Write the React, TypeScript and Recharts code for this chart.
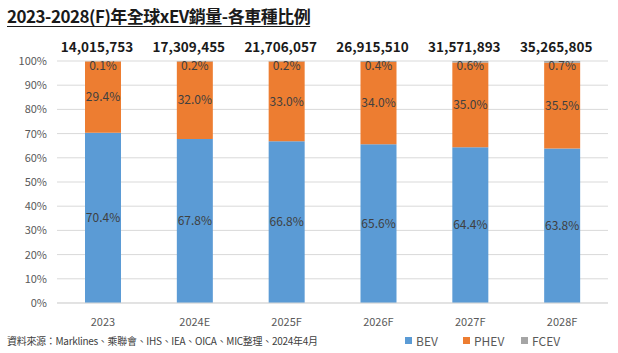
import { BarChart, Bar, XAxis, YAxis, CartesianGrid, LabelList } from "recharts";

const years = ["2023", "2024E", "2025F", "2026F", "2027F", "2028F"];
const bev = [70.4, 67.8, 66.8, 65.6, 64.4, 63.8];
const phev = [29.4, 32.0, 33.0, 34.0, 35.0, 35.5];
const fcev = [0.1, 0.2, 0.2, 0.4, 0.6, 0.7];
const totals = [14015753, 17309455, 21706057, 26915510, 31571893, 35265805];
const yTicks = [0, 10, 20, 30, 40, 50, 60, 70, 80, 90, 100];

const series = [
  { key: "BEV", color: "#5B9BD5" },
  { key: "PHEV", color: "#ED7D31" },
  { key: "FCEV", color: "#A5A5A5" },
];

const data = years.map((year, i) => ({
  year,
  BEV: bev[i],
  PHEV: phev[i],
  FCEV: fcev[i],
  total: totals[i],
}));

const FONT = '"Liberation Sans Narrow", "Noto Sans CJK TC", sans-serif';
const CJK = '"Noto Sans CJK TC", "Liberation Sans Narrow", sans-serif';

const pct = (v: any) => `${Number(v).toFixed(1)}%`;

// small FCEV label sits just under the bar top
const FcevLabel = (props: any) => {
  const { x, y, width, value } = props;
  return (
    <text x={x + width / 2} y={y + 3} textAnchor="middle" dominantBaseline="central" fontSize={12} fill="#404040" fontFamily={FONT}>
      {pct(value)}
    </text>
  );
};

const TotalLabel = (props: any) => {
  const { x, y, width, value } = props;
  return (
    <text x={x + width / 2 - 6} y={y - 15} textAnchor="middle" dominantBaseline="central" fontSize={13.5} fontWeight="bold" fill="#1a1a1a" fontFamily={FONT}>
      {Number(value).toLocaleString("en-US")}
    </text>
  );
};

export default function App() {
  return (
    <div style={{ position: "absolute", left: 0, top: 0, width: 618, height: 353, background: "#fff", overflow: "hidden" }}>
      <div
        style={{
          position: "absolute",
          left: 7,
          top: 3,
          fontFamily: CJK,
          fontSize: 17,
          fontWeight: "bold",
          color: "#1a1a1a",
          textDecoration: "underline",
          textUnderlineOffset: 3,
          letterSpacing: -0.5,
          whiteSpace: "nowrap",
        }}
      >
        2023-2028(F)年全球xEV銷量-各車種比例
      </div>
      <BarChart width={618} height={353} data={data} margin={{ top: 61, right: 10, left: 8, bottom: 20 }}>
        <CartesianGrid vertical={false} stroke="#D9D9D9" />
        <XAxis
          dataKey="year"
          height={30}
          tickLine={false}
          axisLine={{ stroke: "#D9D9D9" }}
          tickMargin={9}
          tick={{ fontSize: 11, fill: "#595959", fontFamily: FONT }}
        />
        <YAxis
          width={49}
          domain={[0, 100]}
          ticks={yTicks}
          tickFormatter={(v: number) => `${v}%`}
          tickLine={false}
          axisLine={false}
          tickMargin={4}
          tick={{ fontSize: 11, fill: "#595959", fontFamily: FONT }}
        />
        <Bar dataKey="BEV" stackId="a" fill={series[0].color} barSize={36} isAnimationActive={false}>
          <LabelList dataKey="BEV" position="center" formatter={pct} fill="#404040" fontSize={12} fontFamily={FONT} />
        </Bar>
        <Bar dataKey="PHEV" stackId="a" fill={series[1].color} barSize={36} isAnimationActive={false}>
          <LabelList dataKey="PHEV" position="center" formatter={pct} fill="#404040" fontSize={12} fontFamily={FONT} />
        </Bar>
        <Bar dataKey="FCEV" stackId="a" fill={series[2].color} barSize={36} isAnimationActive={false}>
          <LabelList dataKey="FCEV" content={FcevLabel} />
          <LabelList dataKey="total" content={TotalLabel} />
        </Bar>
      </BarChart>
      <div
        style={{
          position: "absolute",
          left: 7,
          top: 333,
          fontFamily: CJK,
          fontSize: 10,
          color: "#404040",
          whiteSpace: "nowrap",
          letterSpacing: -0.3,
        }}
      >
        資料來源：Marklines、乘聯會、IHS、IEA、OICA、MIC整理、2024年4月
      </div>
      <div style={{ position: "absolute", left: 405, top: 332, display: "flex", fontFamily: FONT, fontSize: 12, color: "#595959" }}>
        {series.map((s) => (
          <div key={s.key} style={{ display: "flex", alignItems: "center", width: 58 }}>
            <span style={{ width: 7, height: 7, background: s.color, marginRight: 4, display: "inline-block" }} />
            <span>{s.key}</span>
          </div>
        ))}
      </div>
    </div>
  );
}
